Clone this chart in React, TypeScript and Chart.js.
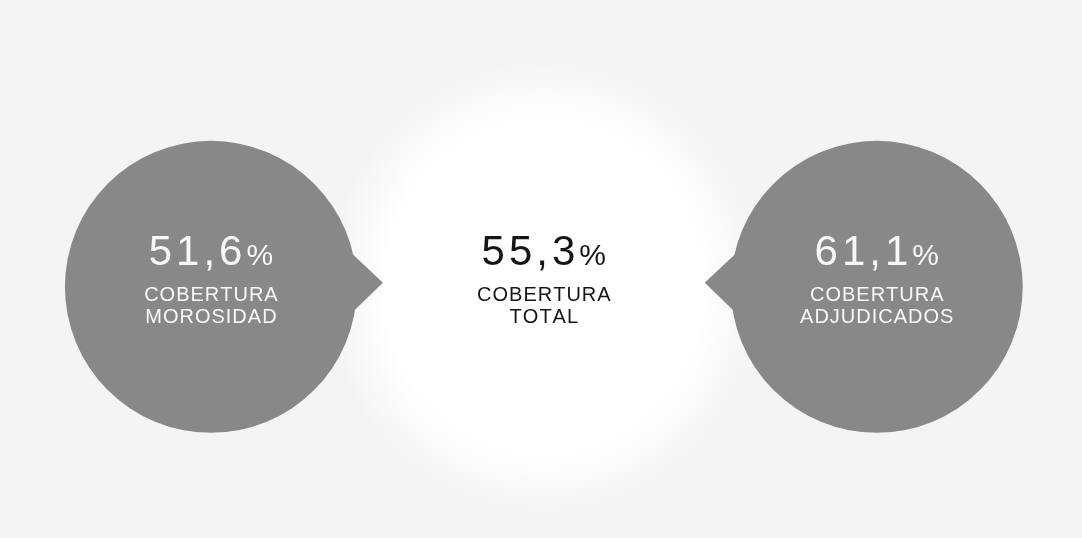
import React, { useEffect, useRef } from 'react';
import { Chart, registerables } from 'chart.js';

Chart.register(...registerables);

const categories = ['MOROSIDAD', 'TOTAL', 'ADJUDICADOS'];
const labelTop = ['COBERTURA', 'COBERTURA', 'COBERTURA'];
const values = [51.6, 55.3, 61.1];
const positions = [0, 1, 2];
const pointerDirs = [1, 0, -1];
const bubbleColors = ['#888888', 'rgba(0,0,0,0)', '#888888'];
const textColors = ['#f8f8f8', '#151515', '#f8f8f8'];

const BUBBLE_R = 146;
const FONT = '"Liberation Sans", Arial, sans-serif';

function drawSpaced(ctx: CanvasRenderingContext2D, text: string, x: number, y: number, spacing: number) {
  let cx = x;
  for (const ch of text) {
    ctx.fillText(ch, cx, y);
    cx += ctx.measureText(ch).width + spacing;
  }
}
function spacedWidth(ctx: CanvasRenderingContext2D, text: string, spacing: number) {
  let w = 0;
  for (const ch of text) w += ctx.measureText(ch).width + spacing;
  return w - spacing;
}

const backgroundPlugin = {
  id: 'bg',
  beforeDraw(chart: any) {
    const { ctx, width, height } = chart;
    ctx.save();
    ctx.fillStyle = '#f4f4f4';
    ctx.fillRect(0, 0, width, height);
    const meta = chart.getDatasetMeta(0);
    const mid = meta.data[1];
    if (mid) {
      ctx.translate(mid.x, mid.y);
      ctx.scale(1, 1.05);
      const g = ctx.createRadialGradient(0, 0, 0, 0, 0, 220);
      g.addColorStop(0, '#ffffff');
      g.addColorStop(0.72, '#ffffff');
      g.addColorStop(1, 'rgba(244,244,244,1)');
      ctx.fillStyle = g;
      ctx.beginPath();
      ctx.arc(0, 0, 220, 0, Math.PI * 2);
      ctx.fill();
    }
    ctx.restore();
  },
};

const pointerPlugin = {
  id: 'pointers',
  afterDatasetsDraw(chart: any) {
    const { ctx } = chart;
    const meta = chart.getDatasetMeta(0);
    meta.data.forEach((el: any, i: number) => {
      const dir = pointerDirs[i];
      if (!dir) return;
      const r = BUBBLE_R - 1;
      const tipX = el.x + dir * 172;
      const tipY = el.y - 4;
      const dyU = -33;
      const dyL = 24;
      const ux = el.x + dir * Math.sqrt(r * r - dyU * dyU);
      const lx = el.x + dir * Math.sqrt(r * r - dyL * dyL);
      ctx.save();
      ctx.fillStyle = bubbleColors[i];
      ctx.beginPath();
      ctx.moveTo(el.x, el.y);
      ctx.lineTo(ux, el.y + dyU);
      ctx.lineTo(tipX, tipY);
      ctx.lineTo(lx, el.y + dyL);
      ctx.closePath();
      ctx.fill();
      ctx.restore();
    });
  },
};

const textPlugin = {
  id: 'texts',
  afterDraw(chart: any) {
    const { ctx } = chart;
    const meta = chart.getDatasetMeta(0);
    meta.data.forEach((el: any, i: number) => {
      ctx.save();
      ctx.fillStyle = textColors[i];
      ctx.textBaseline = 'alphabetic';
      ctx.textAlign = 'left';
      const num = values[i].toFixed(1).replace('.', ',');
      ctx.font = `42px ${FONT}`;
      const wNum = spacedWidth(ctx, num, 4);
      ctx.font = `30px ${FONT}`;
      const wPct = ctx.measureText('%').width;
      const total = wNum + 4 + wPct;
      const x0 = el.x - total / 2;
      const by = el.y - 22;
      ctx.font = `42px ${FONT}`;
      drawSpaced(ctx, num, x0, by, 4);
      ctx.font = `30px ${FONT}`;
      ctx.fillText('%', x0 + wNum + 4, by);
      ctx.font = `20px ${FONT}`;
      const l1 = labelTop[i];
      const l2 = categories[i];
      const w1 = spacedWidth(ctx, l1, 1);
      const w2 = spacedWidth(ctx, l2, 1);
      drawSpaced(ctx, l1, el.x - w1 / 2, el.y + 14, 1);
      drawSpaced(ctx, l2, el.x - w2 / 2, el.y + 36, 1);
      ctx.restore();
    });
  },
};

export default function App() {
  const canvasRef = useRef<HTMLCanvasElement | null>(null);

  useEffect(() => {
    if (!canvasRef.current) return;
    const chart = new Chart(canvasRef.current, {
      type: 'bubble',
      data: {
        datasets: [
          {
            label: 'Cobertura',
            data: values.map((v, i) => ({ x: positions[i], y: 0, r: BUBBLE_R, v })) as any,
            backgroundColor: bubbleColors,
            borderWidth: 0,
            hoverRadius: 0,
            clip: false,
          } as any,
        ],
      },
      options: {
        responsive: false,
        animation: false,
        events: [],
        layout: { padding: 0 },
        scales: {
          x: { type: 'linear', min: -0.195, max: 2.178, display: false },
          y: { type: 'linear', min: -1, max: 1.34, display: false },
        },
        plugins: {
          legend: { display: false },
          tooltip: { enabled: false },
          title: { display: false },
        },
      },
      plugins: [backgroundPlugin, pointerPlugin, textPlugin],
    });
    return () => chart.destroy();
  }, []);

  return (
    <div style={{ position: 'fixed', left: 0, top: 0, width: 1082, height: 538, background: '#f4f4f4' }}>
      <canvas ref={canvasRef} width={1082} height={538} style={{ display: 'block', width: 1082, height: 538 }} />
    </div>
  );
}
